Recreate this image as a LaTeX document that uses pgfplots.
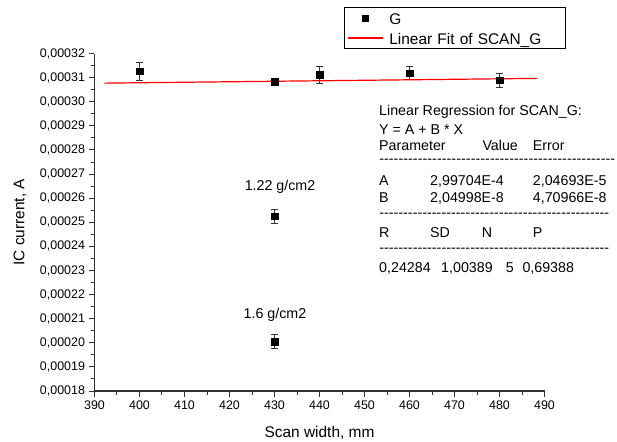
\documentclass[border=0pt]{standalone}
\usepackage{fontspec}
\setmainfont{Liberation Sans}
\usepackage{pgfplots}
\pgfplotsset{compat=1.18}

% scan data: x, current, error
\pgfplotstableread{
x    y          ey
400  0.0003127  0.0000038
430  0.0003083  0.0000009
440  0.0003112  0.0000036
460  0.0003119  0.0000026
480  0.0003090  0.0000029
}\scang
\pgfplotstableread{
x    y          ey
430  0.0002525  0.0000028
430  0.0002005  0.0000029
}\dense

\pgfplotsset{
  marklegend/.style={legend image code/.code={\draw[##1, mark repeat=2, mark phase=2] plot coordinates {(0bp,0bp) (17.5bp,0bp) (35bp,0bp)};}},
  linelegend/.style={legend image code/.code={\draw[##1, red, line width=1.2bp] (0bp,0bp) -- (35bp,0bp);}},
}

\newcommand\rowfont{\fontsize{14.3}{16}\selectfont}
\newcommand\dashrow[1]{\hbox to #1{\xleaders\hbox{-}\hfill}}
\newcommand\legstrut{\rule[-2.5bp]{0pt}{16.5bp}}

\begin{document}
\begin{tikzpicture}
\begin{axis}[
  at={(0,0)}, anchor=south west,
  scale only axis, width=450bp, height=337.4bp,
  xmin=390, xmax=490, ymin=0.00018, ymax=0.00032,
  clip=false,
  axis x line*=bottom, axis y line*=left,
  axis line style={black!80, line width=1.2bp},
  xtick={390,400,410,420,430,440,450,460,470,480,490},
  ytick={0.00018,0.00019,0.00020,0.00021,0.00022,0.00023,0.00024,0.00025,0.00026,0.00027,0.00028,0.00029,0.00030,0.00031,0.00032},
  minor x tick num=1, minor y tick num=1,
  tick align=outside,
  major tick length=6bp, minor tick length=3.5bp,
  every tick/.style={black!80, line width=1bp},
  scaled y ticks=false,
  /pgf/number format/assume math mode=true,
  yticklabel style={/pgf/number format/.cd, fixed, fixed zerofill, precision=5, use comma},
  xticklabel style={/pgf/number format/.cd, fixed, 1000 sep={}},
  ticklabel style={font=\fontsize{12.5}{14}\selectfont},
  xlabel={Scan width, mm},
  ylabel={IC current, A},
  label style={font=\fontsize{15.5}{18}\selectfont},
  xlabel style={at={(axis description cs:0.5,-0.1236)}, anchor=center},
  ylabel style={at={(axis description cs:-0.1656,0.5)}, anchor=center},
  error bars/error bar style={black!80, line width=0.8bp},
  error bars/error mark options={rotate=90, mark size=3.3bp, black!80, line width=0.8bp},
  legend cell align=left,
  legend style={at={(axis description cs:0.5551,1.1372)}, anchor=north west,
    draw=black, line width=0.8bp, fill=white,
    font=\fontsize{15.5}{18}\selectfont,
    inner xsep=2.5bp, inner ysep=1bp, row sep=0bp, column sep=4bp,
    nodes={inner sep=2bp, text width=172bp, align=left}},
]
\addplot[only marks, mark=square*, mark size=3.2bp, black, marklegend,
  error bars/.cd, y dir=both, y explicit]
  table[x=x, y=y, y error=ey] {\scang};
\addlegendentry{\legstrut G}
\addplot[red, line width=1.2bp, no marks, linelegend]
  coordinates {(392.2,0.000307744) (488.3,0.000309714)};
\addlegendentry{\legstrut Linear Fit of SCAN\_G}
\addplot[only marks, mark=square*, mark size=3.2bp, black, forget plot,
  error bars/.cd, y dir=both, y explicit]
  table[x=x, y=y, y error=ey] {\dense};
\end{axis}

% areal density labels
\node[font=\rowfont, anchor=center] at (185.5bp,203.7bp) {1.22 g/cm2};
\node[font=\rowfont, anchor=center] at (180.5bp,76bp) {1.6 g/cm2};

% regression report
\begin{scope}[every node/.style={font=\rowfont, anchor=base west, inner sep=0pt}]
\node at (284.5bp,275.9bp) {Linear Regression for SCAN\_G:};
\node at (284.5bp,256.9bp) {Y = A + B * X};
\node at (284.5bp,240.9bp) {Parameter};
\node at (387.8bp,240.9bp) {Value};
\node at (438.2bp,240.9bp) {Error};
\node[anchor=west] at (284.5bp,229.3bp) {\dashrow{236bp}};
\node at (284.5bp,205.2bp) {A};
\node at (335.5bp,205.2bp) {2,99704E-4};
\node at (438.2bp,205.2bp) {2,04693E-5};
\node at (284.5bp,188.6bp) {B};
\node at (335.5bp,188.6bp) {2,04998E-8};
\node at (438.2bp,188.6bp) {4,70966E-8};
\node[anchor=west] at (284.5bp,176bp) {\dashrow{230bp}};
\node at (284.5bp,153.2bp) {R};
\node at (335.5bp,153.2bp) {SD};
\node at (387.2bp,153.2bp) {N};
\node at (438.2bp,153.2bp) {P};
\node[anchor=west] at (284.5bp,141bp) {\dashrow{230bp}};
\node at (284.5bp,118.6bp) {0,24284};
\node at (346.5bp,118.6bp) {1,00389};
\node at (411.2bp,118.6bp) {5};
\node at (427.8bp,118.6bp) {0,69388};
\end{scope}

\pgfresetboundingbox
\useasboundingbox (-94.5bp,-51bp) rectangle (522.5bp,391bp);
\end{tikzpicture}
\end{document}
